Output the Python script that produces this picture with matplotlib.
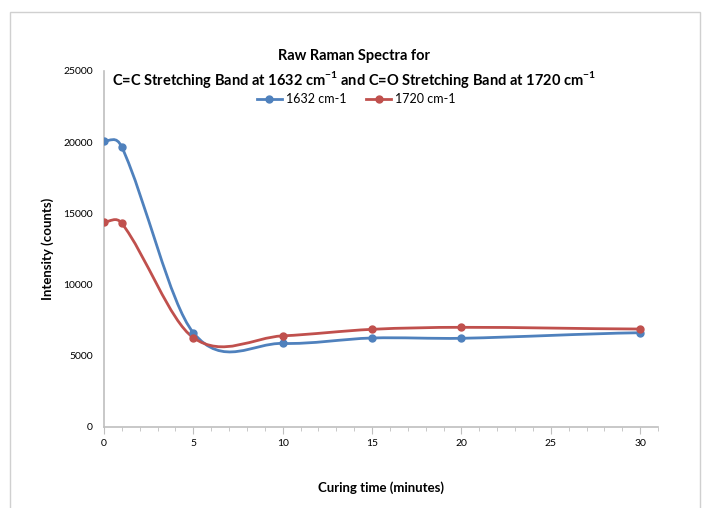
import numpy as np
import matplotlib
matplotlib.use("Agg")
import matplotlib.pyplot as plt
from matplotlib.path import Path
from matplotlib.patches import PathPatch, Rectangle
from matplotlib.lines import Line2D
from matplotlib.ticker import MultipleLocator

plt.rcParams['font.family'] = ['Lato', 'DejaVu Sans']
plt.rcParams['mathtext.fontset'] = 'custom'
plt.rcParams['mathtext.rm'] = 'Lato'
plt.rcParams['mathtext.bf'] = 'Lato:bold'

time_min = [0, 1, 5, 10, 15, 20, 30]
band_1632 = [20100, 19650, 6620, 5870, 6250, 6230, 6620]
band_1720 = [14400, 14300, 6270, 6400, 6860, 7000, 6880]
series_names = ["1632 cm-1", "1720 cm-1"]
colors = ["#4F81BD", "#C0504D"]


def smooth_path(x, y):
    # smoothed line like Excel's: cubic Hermite pieces with finite-difference slopes
    x = np.asarray(x, float)
    y = np.asarray(y, float)
    n = len(x)
    m = np.zeros(n)
    for i in range(n):
        if i == 0:
            m[i] = 0.5 * (y[1] - y[0]) / (x[1] - x[0])
        elif i == n - 1:
            m[i] = 0.5 * (y[-1] - y[-2]) / (x[-1] - x[-2])
        else:
            m[i] = (y[i + 1] - y[i - 1]) / (x[i + 1] - x[i - 1])
    verts = [(x[0], y[0])]
    codes = [Path.MOVETO]
    for i in range(n - 1):
        h = x[i + 1] - x[i]
        verts += [(x[i] + h / 3, y[i] + m[i] * h / 3),
                  (x[i + 1] - h / 3, y[i + 1] - m[i + 1] * h / 3),
                  (x[i + 1], y[i + 1])]
        codes += [Path.CURVE4] * 3
    return Path(verts, codes)


fig = plt.figure(figsize=(7.09, 5.08), dpi=100)
ax = fig.add_axes([104 / 709, 1 - 427 / 508, (658 - 104) / 709, (427 - 71) / 508])

handles = []
for vals, name, col in zip([band_1632, band_1720], series_names, colors):
    ax.add_patch(PathPatch(smooth_path(time_min, vals), facecolor="none",
                           edgecolor=col, lw=2.0, zorder=3))
    ax.plot(time_min, vals, "o", color=col, ms=5, zorder=4)
    handles.append(Line2D([], [], color=col, lw=2.0, marker="o", ms=5, label=name))

ax.set_xlim(0, 31)
ax.set_ylim(0, 25000)
ax.xaxis.set_major_locator(MultipleLocator(5))
ax.xaxis.set_minor_locator(MultipleLocator(1))
ax.yaxis.set_major_locator(MultipleLocator(5000))
for s in ["top", "right"]:
    ax.spines[s].set_visible(False)
for s in ["left", "bottom"]:
    ax.spines[s].set_color("#BFBFBF")
    ax.spines[s].set_linewidth(1.2)
ax.tick_params(axis="x", which="both", direction="out", color="#BFBFBF", labelsize=7.5)
ax.tick_params(axis="x", which="major", length=5)
ax.tick_params(axis="x", which="minor", length=3)
ax.tick_params(axis="y", length=0, labelsize=7.5, pad=8)

ax.set_xlabel("Curing time (minutes)", fontsize=9.5, fontweight="bold", labelpad=24)
ax.set_ylabel("Intensity (counts)", fontsize=9.5, fontweight="bold", labelpad=7)

fig.text(0.5, 1 - 56 / 508, "Raw Raman Spectra for", ha="center", va="center",
         fontsize=10.5, fontweight="bold")
fig.text(0.5, 1 - 80 / 508,
         r"C=C Stretching Band at 1632 cm$^{\mathbf{-1}}$ and C=O Stretching Band at 1720 cm$^{\mathbf{-1}}$",
         ha="center", va="center", fontsize=10.5, fontweight="bold")

fig.legend(handles=handles, loc="center", bbox_to_anchor=(356 / 709, 1 - 99 / 508),
           ncol=2, frameon=False, fontsize=9, handlelength=2.0, columnspacing=1.6,
           handletextpad=0.3)

fig.add_artist(Rectangle((10 / 709, -0.05), 690 / 709, 1.05 - 12 / 508,
                         transform=fig.transFigure, fill=False,
                         edgecolor="#D0D0D0", lw=1.0))

fig.savefig("out.png", dpi=100)
